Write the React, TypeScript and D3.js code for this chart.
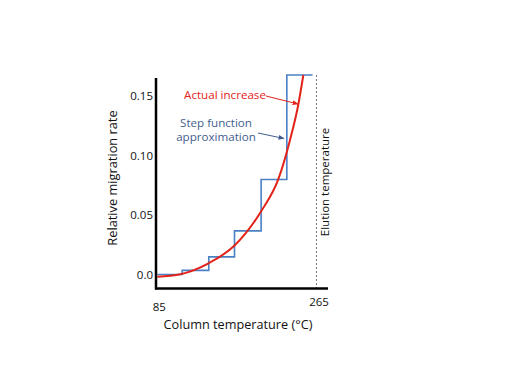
import React from "react";
import * as d3 from "d3";

// step function approximation: [temperature, rate] corners
const stepTemps = [85, 113, 143, 172, 202, 231, 260];
const stepRates = [0.0, 0.0035, 0.0148, 0.0367, 0.080, 0.168];

const curveTemps = [85, 110.9, 142.7, 172, 201.7, 221.5, 234.6, 244, 249.6];
const curveRates = [-0.0019, 0.0002, 0.0094, 0.0244, 0.0529, 0.0805, 0.1133, 0.1434, 0.168];

const xTicks = [85, 265];
const yTicks = [0, 0.05, 0.1, 0.15];
const yTickLabels = ["0.0", "0.05", "0.10", "0.15"];
const elutionTemp = 265;

const FONT = "'Open Sans', 'Noto Sans', sans-serif";
const BLUE = "#4a80c4";
const BLUE_TEXT = "#3f5e8f";
const RED = "#e2231a";

export default function App() {
  const width = 520;
  const height = 390;

  const x = d3.scaleLinear().domain([83.5, 277.4]).range([156, 328]);
  const y = d3.scaleLinear().domain([-0.0118, 0.168]).range([288.5, 75]);

  const stepPts: [number, number][] = [];
  stepRates.forEach((r, i) => {
    stepPts.push([stepTemps[i], r]);
    stepPts.push([stepTemps[i + 1], r]);
  });
  const stepLine = d3
    .line<[number, number]>()
    .x(d => x(d[0]))
    .y(d => y(d[1]));

  const curvePts: [number, number][] = curveTemps.map((t, i) => [t, curveRates[i]]);
  const redLine = d3
    .line<[number, number]>()
    .x(d => x(d[0]))
    .y(d => y(d[1]))
    .curve(d3.curveMonotoneX);

  return (
    <svg width={width} height={height} style={{ position: "absolute", left: 0, top: 0 }}>
      <defs>
        <marker id="arrRed" viewBox="0 0 10 10" refX="9" refY="5" markerWidth="6" markerHeight="6" orient="auto">
          <path d="M0,1 L10,5 L0,9 z" fill={RED} />
        </marker>
        <marker id="arrBlue" viewBox="0 0 10 10" refX="9" refY="5" markerWidth="6" markerHeight="6" orient="auto">
          <path d="M0,1 L10,5 L0,9 z" fill={BLUE_TEXT} />
        </marker>
      </defs>
      <rect width={width} height={height} fill="#fff" />

      {/* elution temperature marker */}
      <line
        x1={x(elutionTemp) - 0.5}
        x2={x(elutionTemp) - 0.5}
        y1={75}
        y2={288}
        stroke="#777"
        strokeWidth={1}
        strokeDasharray="2,2"
      />
      <text
        transform={`translate(${x(elutionTemp) + 12},182) rotate(-90)`}
        textAnchor="middle"
        fontFamily={FONT}
        fontSize={11.5}
        fill="#111"
      >
        Elution temperature
      </text>

      <path d={stepLine(stepPts) || ""} fill="none" stroke={BLUE} strokeWidth={1.6} />
      <path d={redLine(curvePts) || ""} fill="none" stroke={RED} strokeWidth={2} />

      {/* axes */}
      <line x1={156} x2={156} y1={78} y2={289.5} stroke="#000" strokeWidth={2.5} />
      <line x1={155} x2={328} y1={288.5} y2={288.5} stroke="#000" strokeWidth={2.5} />

      {yTicks.map((v, i) => (
        <text
          key={v}
          x={153}
          y={y(v)}
          dy="0.35em"
          textAnchor="end"
          fontFamily={FONT}
          fontSize={11.5}
          fill="#111"
        >
          {yTickLabels[i]}
        </text>
      ))}
      {xTicks.map((v, i) => (
        <text
          key={v}
          x={x(v) + 2}
          y={i === 0 ? 307 : 302}
          dy="0.35em"
          textAnchor="middle"
          fontFamily={FONT}
          fontSize={11.5}
          fill="#111"
        >
          {v}
        </text>
      ))}

      <text
        x={238}
        y={329}
        textAnchor="middle"
        fontFamily={FONT}
        fontSize={12.7}
        fill="#111"
      >
        Column temperature (°C)
      </text>
      <text
        transform="translate(117,178) rotate(-90)"
        textAnchor="middle"
        fontFamily={FONT}
        fontSize={12.8}
        fill="#111"
      >
        Relative migration rate
      </text>

      {/* annotations */}
      <text x={225} y={98.5} textAnchor="middle" fontFamily={FONT} fontSize={11.6} fill={RED}>
        Actual increase
      </text>
      <line x1={266} y1={96} x2={298} y2={104} stroke={RED} strokeWidth={1} markerEnd="url(#arrRed)" />
      <text x={216} y={127} textAnchor="middle" fontFamily={FONT} fontSize={11.6} fill={BLUE_TEXT}>
        Step function
      </text>
      <text x={216} y={140.5} textAnchor="middle" fontFamily={FONT} fontSize={11.6} fill={BLUE_TEXT}>
        approximation
      </text>
      <line x1={258} y1={133} x2={284} y2={138.5} stroke={BLUE_TEXT} strokeWidth={1} markerEnd="url(#arrBlue)" />
    </svg>
  );
}
